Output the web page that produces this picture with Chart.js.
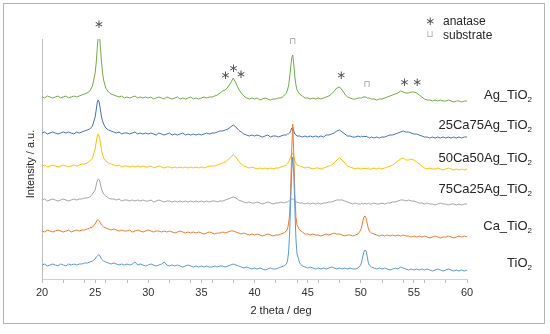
<!DOCTYPE html>
<html>
<head>
<meta charset="utf-8">
<script src="https://cdn.jsdelivr.net/npm/chart.js@4.4.1/dist/chart.umd.min.js"></script>
<style>
  html, body { margin: 0; padding: 0; background: #fff; }
  canvas { display: block; }
</style>
</head>
<body>
<canvas id="xrd" width="550" height="334"></canvas>
<script>
const twoTheta = [
  20, 20.25, 20.5, 20.75, 21, 21.25, 21.5, 21.75, 22, 22.25, 22.5, 22.75, 23, 23.25, 23.5, 23.75, 24, 24.25, 24.5, 24.75,
  25, 25.1, 25.2, 25.3, 25.4, 25.5, 25.6, 25.7, 25.8,
  26, 26.25, 26.5, 26.75, 27, 27.25, 27.5, 27.75,
  28, 28.25, 28.5, 28.75, 29, 29.25, 29.5, 29.75,
  30, 30.25, 30.5, 30.75, 31, 31.25, 31.5, 31.75,
  32, 32.25, 32.5, 32.75, 33, 33.25, 33.5, 33.75,
  34, 34.25, 34.5, 34.75, 35, 35.25, 35.5, 35.75,
  36, 36.25, 36.5, 36.75, 37, 37.25, 37.5, 37.75,
  38, 38.25, 38.5, 38.75, 39, 39.25, 39.5, 39.75,
  40, 40.25, 40.5, 40.75, 41, 41.25, 41.5, 41.75,
  42, 42.25, 42.5, 42.75,
  43, 43.1, 43.2, 43.3, 43.4, 43.5, 43.6, 43.7, 43.8, 43.9, 44,
  44.25, 44.5, 44.75, 45, 45.25, 45.5, 45.75,
  46, 46.25, 46.5, 46.75, 47, 47.25, 47.5, 47.75,
  48, 48.25, 48.5, 48.75, 49, 49.25, 49.5, 49.75,
  50, 50.1, 50.2, 50.3, 50.4, 50.5, 50.6, 50.7, 50.8,
  51, 51.25, 51.5, 51.75, 52, 52.25, 52.5, 52.75,
  53, 53.25, 53.5, 53.75, 54, 54.25, 54.5, 54.75,
  55, 55.25, 55.5, 55.75, 56, 56.25, 56.5, 56.75,
  57, 57.25, 57.5, 57.75, 58, 58.25, 58.5, 58.75,
  59, 59.25, 59.5, 59.75, 60
];

const seriesNames = ['TiO', 'Ca_TiO', '75Ca25Ag_TiO', '50Ca50Ag_TiO', '25Ca75Ag_TiO', 'Ag_TiO'];

const tio2 = [
  14, 15, 13, 14, 15, 14, 13, 15, 14, 13, 15, 14, 15, 14, 15, 15, 16, 16, 17, 18,
  20, 22, 23, 24, 24, 22, 20, 19, 18,
  17, 16, 15, 16, 15, 14, 15, 14,
  15, 14, 15, 17, 14, 15, 14, 13,
  14, 15, 14, 13, 14, 15, 17, 14,
  13, 14, 13, 14, 13, 12, 13, 14,
  13, 12, 13, 12, 13, 12, 13, 12,
  12, 13, 12, 13, 13, 12, 13, 14,
  15, 14, 13, 12, 11, 12, 11, 10,
  11, 10, 11, 10, 9, 10, 11, 10,
  10, 11, 12, 13,
  15, 18, 26, 44, 76, 108, 122, 104, 70, 40, 25,
  16, 13, 12, 11, 12, 11, 10,
  11, 10, 11, 10, 11, 12, 11, 10,
  11, 10, 11, 10, 11, 10, 10, 11,
  14, 18, 23, 27, 29, 28, 23, 17, 14,
  12, 11, 10, 11, 10, 11, 10, 9,
  10, 11, 10, 12, 11, 10, 9, 10,
  9, 10, 9, 10, 9, 10, 9, 8,
  9, 10, 9, 8, 9, 10, 9, 8,
  9, 8, 9, 8, 9
];

const caTio2 = [
  48, 47, 49, 48, 47, 48, 49, 48, 47, 48, 49, 47, 48, 49, 48, 49, 49, 50, 51, 52,
  55, 57, 59, 59, 58, 56, 54, 53, 52,
  51, 50, 49, 50, 49, 48, 49, 48,
  48, 49, 47, 48, 49, 48, 47, 48,
  49, 48, 47, 48, 48, 47, 48, 47,
  48, 47, 46, 47, 48, 47, 46, 47,
  46, 47, 46, 47, 46, 45, 46, 47,
  46, 45, 46, 46, 47, 46, 47, 48,
  48, 47, 46, 45, 46, 45, 44, 45,
  44, 45, 44, 43, 44, 45, 44, 43,
  44, 44, 45, 46,
  48, 50, 55, 64, 88, 128, 155, 124, 84, 62, 54,
  49, 47, 45, 45, 44, 45, 44,
  44, 43, 44, 45, 44, 45, 46, 45,
  45, 44, 43, 44, 44, 43, 44, 45,
  49, 53, 58, 62, 63, 61, 56, 51, 48,
  46, 45, 44, 43, 44, 43, 44, 43,
  44, 43, 44, 43, 44, 43, 43, 42,
  43, 42, 43, 42, 43, 42, 41, 42,
  43, 42, 41, 42, 42, 43, 42, 41,
  42, 43, 42, 43, 42
];

const ca75ag25 = [
  79, 80, 78, 79, 80, 79, 78, 79, 80, 79, 78, 79, 80, 79, 80, 80, 81, 81, 82, 85,
  89, 94, 98, 100, 99, 95, 90, 87, 85,
  83, 81, 80, 80, 79, 80, 78, 79,
  79, 78, 79, 78, 79, 78, 79, 78,
  78, 79, 77, 78, 79, 78, 77, 78,
  78, 77, 78, 77, 78, 77, 78, 77,
  78, 77, 78, 77, 78, 77, 78, 77,
  78, 78, 77, 78, 78, 79, 80, 81,
  82, 81, 79, 78, 77, 76, 77, 76,
  76, 77, 76, 75, 76, 77, 76, 75,
  76, 76, 77, 76,
  77, 77, 78, 78, 79, 80, 80, 79, 78, 77, 77,
  76, 76, 75, 76, 75, 76, 75,
  76, 75, 76, 76, 77, 77, 78, 79,
  79, 79, 78, 77, 76, 75, 76, 75,
  75, 76, 75, 75, 76, 75, 75, 76, 75,
  75, 76, 75, 75, 76, 75, 76, 76,
  77, 77, 78, 79, 79, 78, 79, 78,
  78, 77, 76, 76, 75, 76, 75, 75,
  74, 75, 76, 75, 75, 74, 75, 75,
  74, 75, 74, 75, 75
];

const ca50ag50 = [
  113, 114, 112, 113, 114, 113, 112, 113, 114, 113, 112, 113, 114, 113, 114, 115, 115, 116, 118, 121,
  130, 137, 143, 145, 142, 136, 129, 124, 121,
  118, 116, 115, 114, 113, 114, 112, 113,
  113, 112, 113, 112, 113, 112, 113, 112,
  112, 113, 111, 112, 113, 112, 111, 112,
  112, 111, 112, 111, 112, 111, 112, 111,
  112, 111, 112, 111, 112, 111, 112, 113,
  113, 113, 114, 115, 116, 117, 119, 122,
  124, 122, 118, 115, 113, 112, 111, 112,
  111, 110, 111, 110, 111, 110, 111, 110,
  111, 111, 112, 113,
  114, 115, 117, 119, 122, 125, 126, 122, 118, 116, 114,
  113, 112, 111, 112, 111, 110, 111,
  111, 110, 111, 112, 113, 114, 116, 119,
  121, 119, 116, 113, 112, 111, 110, 111,
  110, 111, 110, 111, 110, 111, 110, 111, 110,
  110, 111, 110, 111, 110, 111, 112, 113,
  114, 116, 118, 120, 121, 119, 119, 120,
  119, 117, 115, 113, 111, 110, 111, 110,
  110, 111, 110, 109, 110, 111, 110, 109,
  110, 109, 110, 109, 110
];

const ca25ag75 = [
  146, 147, 145, 146, 147, 146, 145, 146, 147, 146, 147, 146, 145, 147, 146, 147, 148, 149, 150, 153,
  162, 169, 177, 179, 176, 169, 162, 158, 155,
  151, 149, 148, 147, 146, 147, 145, 146,
  146, 145, 146, 147, 145, 146, 145, 146,
  145, 146, 145, 144, 146, 145, 144, 145,
  146, 144, 145, 144, 145, 146, 144, 145,
  144, 145, 144, 145, 144, 145, 146, 145,
  146, 146, 147, 148, 148, 149, 150, 152,
  154, 152, 149, 147, 145, 144, 143, 144,
  143, 144, 143, 142, 143, 144, 142, 143,
  143, 142, 143, 144,
  144, 145, 145, 146, 148, 151, 152, 148, 145, 144, 143,
  143, 142, 143, 142, 143, 142, 143,
  142, 143, 142, 144, 144, 145, 146, 148,
  149, 147, 145, 143, 143, 142, 142, 143,
  142, 143, 142, 143, 142, 143, 142, 142, 141,
  142, 141, 142, 141, 142, 142, 143, 144,
  144, 145, 146, 147, 148, 147, 147, 146,
  145, 145, 144, 143, 142, 142, 141, 142,
  141, 142, 141, 142, 141, 142, 141, 142,
  141, 142, 141, 142, 142
];

const agTio2 = [
  182, 181, 183, 182, 181, 182, 183, 181, 182, 183, 181, 182, 183, 182, 183, 184, 185, 186, 188, 193,
  206, 216, 231, 244, 246, 231, 217, 206, 199,
  191, 187, 185, 184, 183, 182, 183, 181,
  182, 181, 182, 183, 181, 182, 181, 182,
  181, 182, 180, 181, 182, 181, 180, 182,
  181, 180, 181, 182, 180, 181, 180, 181,
  182, 180, 181, 180, 181, 182, 181, 182,
  182, 183, 184, 186, 188, 189, 192, 196,
  201, 196, 190, 186, 183, 181, 180, 181,
  180, 181, 179, 180, 181, 180, 179, 180,
  180, 181, 181, 183,
  186, 189, 193, 201, 211, 221, 224, 214, 202, 194, 189,
  185, 183, 181, 181, 180, 181, 180,
  181, 180, 181, 182, 183, 185, 188, 191,
  192, 189, 185, 182, 181, 180, 180, 181,
  181, 181, 182, 182, 182, 182, 181, 181, 181,
  180, 180, 179, 180, 180, 181, 182, 183,
  184, 185, 186, 188, 187, 186, 186, 187,
  187, 186, 184, 182, 180, 179, 179, 178,
  179, 178, 179, 178, 178, 179, 178, 177,
  178, 178, 177, 178, 178
];

const allSeries = [tio2, caTio2, ca75ag25, ca50ag50, ca25ag75, agTio2];

// reperes des pics : [2 theta, niveau]
const anataseMarks = [[25.35, 254], [37.25, 203], [38.0, 210], [38.7, 204], [48.15, 203], [54.1, 196], [55.3, 196]];
const substrateMarks = [[43.6, 237], [50.6, 194]];

const colors = ['#5B9BD5', '#ED7D31', '#A5A5A5', '#FFC000', '#4472C4', '#70AD47'];
const labelLevels = [16, 53, 90, 121, 154, 184];

const FONT = '"Liberation Sans", Arial, sans-serif';

const decorations = {
    id: 'decorations',
    beforeDraw(chart) {
        const ctx = chart.ctx;
        ctx.save();
        ctx.fillStyle = '#fff';
        ctx.fillRect(0, 0, chart.width, chart.height);
        ctx.restore();
    },
    afterDraw(chart) {
        const { ctx, scales: { x, y } } = chart;
        ctx.save();

        // cadre
        ctx.strokeStyle = '#b4b4b4';
        ctx.lineWidth = 1;
        ctx.strokeRect(3.5, 3.5, 541, 320);

        // titres des axes
        ctx.fillStyle = '#262626';
        ctx.font = '11px ' + FONT;
        ctx.textAlign = 'center';
        ctx.textBaseline = 'middle';
        ctx.fillText('2 theta / deg', 281, 311);
        ctx.save();
        ctx.translate(31, 164);
        ctx.rotate(-Math.PI / 2);
        ctx.fillText('Intensity / a.u.', 0, 0);
        ctx.restore();

        // noms des echantillons, avec indice 2
        seriesNames.forEach((name, i) => {
            const yy = y.getPixelForValue(labelLevels[i]);
            ctx.font = '8px ' + FONT;
            const subW = ctx.measureText('2').width;
            ctx.textAlign = 'left';
            ctx.fillText('2', 532 - subW, yy + 5);
            ctx.font = '13px ' + FONT;
            ctx.textAlign = 'right';
            ctx.fillText(name, 532 - subW, yy);
        });

        // etoiles anatase
        ctx.fillStyle = '#555';
        ctx.textAlign = 'center';
        ctx.font = '12px "DejaVu Sans"';
        anataseMarks.forEach(([t, lvl]) => {
            ctx.fillText('∗', x.getPixelForValue(t), y.getPixelForValue(lvl));
        });

        // substrat
        ctx.fillStyle = '#9a9a9a';
        ctx.font = '9px "DejaVu Sans"';
        substrateMarks.forEach(([t, lvl]) => {
            ctx.fillText('⊓', x.getPixelForValue(t), y.getPixelForValue(lvl));
        });

        // legende
        ctx.fillStyle = '#555';
        ctx.font = '12px "DejaVu Sans"';
        ctx.fillText('∗', 430, 22);
        ctx.fillStyle = '#aaaaaa';
        ctx.font = '9px "DejaVu Sans"';
        ctx.fillText('⊔', 430, 35);
        ctx.fillStyle = '#262626';
        ctx.font = '12px ' + FONT;
        ctx.textAlign = 'left';
        ctx.fillText('anatase', 443, 22);
        ctx.fillText('substrate', 443, 36);

        ctx.restore();
    }
};

new Chart(document.getElementById('xrd'), {
    type: 'line',
    data: {
        labels: twoTheta,
        datasets: allSeries.map((values, i) => ({
            label: seriesNames[i] + '2',
            data: values.map((v, k) => ({ x: twoTheta[k], y: v })),
            borderColor: colors[i],
            borderWidth: 1,
            pointRadius: 0,
            tension: 0,
            fill: false
        }))
    },
    options: {
        responsive: false,
        animation: false,
        devicePixelRatio: 1,
        layout: { padding: { left: 42, right: 83, top: 39, bottom: 0 } },
        plugins: { legend: { display: false }, tooltip: { enabled: false } },
        scales: {
            x: {
                type: 'linear',
                min: 20,
                max: 60,
                afterFit: s => { s.height = 55; },
                border: { display: true, color: '#d0d0d0', width: 1 },
                grid: {
                    drawOnChartArea: false,
                    drawTicks: true,
                    tickLength: 4,
                    color: c => (c.tick && (c.tick.value % 2 === 0 || c.tick.value % 5 === 0)) ? '#bfbfbf' : 'rgba(0,0,0,0)'
                },
                ticks: {
                    stepSize: 1,
                    autoSkip: false,
                    maxRotation: 0,
                    padding: 3,
                    color: '#333',
                    font: { family: FONT, size: 11 },
                    callback: v => (v % 5 === 0 ? v : '')
                }
            },
            y: {
                min: 0,
                max: 240,
                afterFit: s => { s.width = 0; },
                border: { display: true, color: '#bfbfbf', width: 1 },
                grid: { display: false },
                ticks: { display: false }
            }
        }
    },
    plugins: [decorations]
});
</script>
</body>
</html>
